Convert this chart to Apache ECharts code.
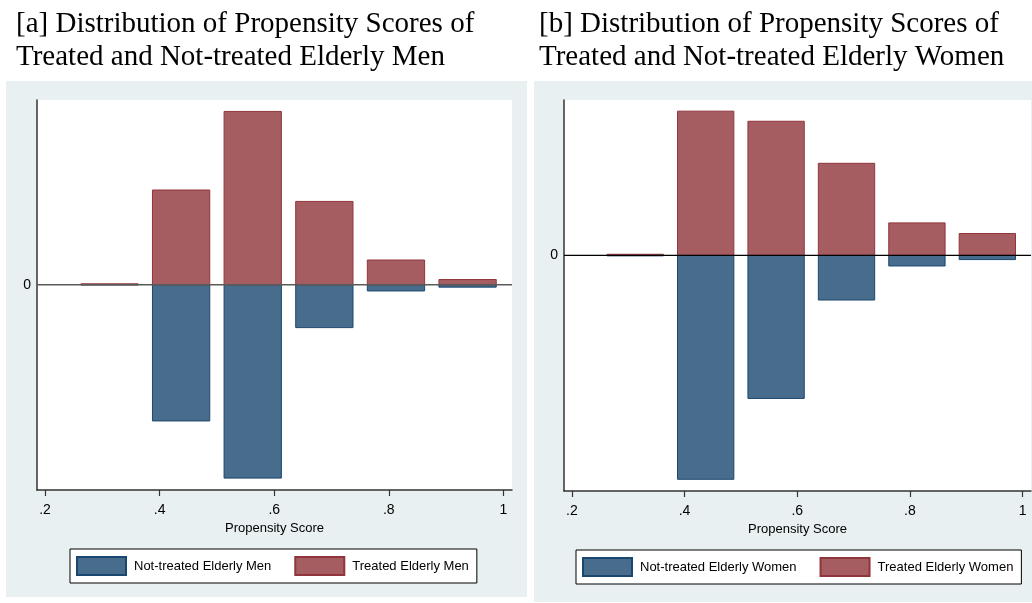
<!DOCTYPE html>
<html>
<head>
<meta charset="utf-8">
<title>Distribution of Propensity Scores</title>
<script src="https://cdn.jsdelivr.net/npm/echarts@6/dist/echarts.min.js"></script>
<style>
  html, body { margin: 0; padding: 0; background: #ffffff; }
  #chart { width: 1032px; height: 603px; }
</style>
</head>
<body>
<div id="chart"></div>
<script>
// Histogram bins of the propensity score (bin centres, width 0.125)
const binCenters = [0.3125, 0.4375, 0.5625, 0.6875, 0.8125, 0.9375];
const barSpan = 0.1; // drawn width of each bar in score units (gap between bins)

// Densities per bin
const menTreated = [0.02, 1.99, 3.64, 1.75, 0.52, 0.11];
const menNotTreated = [0, 2.86, 4.06, 0.90, 0.13, 0.05];
const womenTreated = [0.02, 2.71, 2.52, 1.73, 0.61, 0.41];
const womenNotTreated = [0.01, 4.21, 2.69, 0.84, 0.20, 0.08];

// Axis ticks
const xTickValues = [0.2, 0.4, 0.6, 0.8, 1.0];
const xTickLabels = ['.2', '.4', '.6', '.8', '1'];
const yTickValues = [0];
const yTickLabels = ['0'];

const titles = [
  '[a] Distribution of Propensity Scores of\nTreated and Not-treated Elderly Men',
  '[b] Distribution of Propensity Scores of\nTreated and Not-treated Elderly Women'
];
const seriesNames = [
  ['Not-treated Elderly Men', 'Treated Elderly Men'],
  ['Not-treated Elderly Women', 'Treated Elderly Women']
];

const SANS = '"Liberation Sans", Arial, sans-serif';
const SERIF = '"Liberation Serif", "Times New Roman", serif';
const SANS_SIZE = 13;
const TICK_SIZE = 14;
const NAVY = '#1a476f', NAVY_FILL = '#486c8c';
const MAROON = '#90353b', MAROON_FILL = '#a65d62';
const PANEL_BG = '#e8f0f2';

// Rows for a custom histogram series: [left edge, right edge, signed value]
function histRows(values, sign) {
  return binCenters.map((c, i) => [c - barSpan / 2, c + barSpan / 2, sign * values[i]]);
}

function renderBar(params, api) {
  const p0 = api.coord([api.value(0), 0]);
  const p1 = api.coord([api.value(1), api.value(2)]);
  const x = Math.min(p0[0], p1[0]);
  const y = Math.min(p0[1], p1[1]);
  const w = Math.abs(p1[0] - p0[0]);
  const h = Math.abs(p1[1] - p0[1]);
  return {
    type: 'rect',
    shape: { x: x, y: y, width: w, height: h },
    style: api.style()
  };
}

const xMin = 0.186, xMax = 1.015;
const yRanges = [[-4.31, 3.88], [-4.43, 2.92]];

function xAxisFor(gridIndex) {
  return {
    gridIndex: gridIndex,
    type: 'value',
    min: xMin,
    max: xMax,
    name: 'Propensity Score',
    nameLocation: 'middle',
    nameGap: 30,
    nameTextStyle: { fontFamily: SANS, fontSize: SANS_SIZE, color: '#000' },
    axisLine: { show: true, onZero: false, lineStyle: { color: '#333', width: 1.5 } },
    axisTick: { show: true, length: 6, customValues: xTickValues, lineStyle: { color: '#333', width: 1.2 } },
    axisLabel: {
      customValues: xTickValues,
      margin: 13,
      fontFamily: SANS,
      fontSize: TICK_SIZE,
      color: '#000',
      formatter: v => {
        const i = xTickValues.findIndex(t => Math.abs(t - v) < 1e-9);
        return i >= 0 ? xTickLabels[i] : '';
      }
    },
    splitLine: { show: false }
  };
}

function yAxisFor(gridIndex) {
  return {
    gridIndex: gridIndex,
    type: 'value',
    min: yRanges[gridIndex][0],
    max: yRanges[gridIndex][1],
    axisLine: { show: true, lineStyle: { color: '#333', width: 1.5 } },
    axisTick: { show: false },
    axisLabel: {
      customValues: yTickValues,
      margin: 6,
      fontFamily: SANS,
      fontSize: TICK_SIZE,
      color: '#000',
      formatter: v => {
        const i = yTickValues.findIndex(t => Math.abs(t - v) < 1e-9);
        return i >= 0 ? yTickLabels[i] : '';
      }
    },
    splitLine: { show: false }
  };
}

function histSeries(name, gridIndex, rows, fill, edge) {
  return {
    name: name,
    type: 'custom',
    xAxisIndex: gridIndex,
    yAxisIndex: gridIndex,
    renderItem: renderBar,
    encode: { x: [0, 1], y: 2 },
    itemStyle: { color: fill, borderColor: edge, borderWidth: 1 },
    data: rows,
    z: 2,
    silent: true
  };
}

function zeroLine(gridIndex, color, width) {
  return {
    type: 'line',
    xAxisIndex: gridIndex,
    yAxisIndex: gridIndex,
    data: [[xMin, 0], [xMax, 0]],
    symbol: 'none',
    lineStyle: { color: color, width: width },
    silent: true,
    z: 5
  };
}

function legendFor(names, left, top) {
  return {
    data: names,
    left: left,
    top: top,
    orient: 'horizontal',
    icon: 'rect',
    itemWidth: 49,
    itemHeight: 18,
    itemGap: 23,
    padding: [7, 8, 7, 6],
    borderColor: '#000',
    borderWidth: 1,
    backgroundColor: '#fff',
    selectedMode: false,
    textStyle: { fontFamily: SANS, fontSize: SANS_SIZE, color: '#000', padding: [0, 0, 0, 3] }
  };
}

const chart = echarts.init(document.getElementById('chart'), null, { renderer: 'canvas' });

chart.setOption({
  animation: false,
  backgroundColor: '#ffffff',
  graphic: [
    { type: 'rect', shape: { x: 6, y: 81, width: 521, height: 516 }, style: { fill: PANEL_BG }, z: -10, silent: true },
    { type: 'rect', shape: { x: 534, y: 81, width: 498, height: 521 }, style: { fill: PANEL_BG }, z: -10, silent: true }
  ],
  title: [
    {
      text: titles[0], left: 16, top: 8, padding: 0,
      textStyle: { fontFamily: SERIF, fontSize: 29, fontWeight: 'normal', color: '#000', lineHeight: 33 }
    },
    {
      text: titles[1], left: 539, top: 8, padding: 0,
      textStyle: { fontFamily: SERIF, fontSize: 29, fontWeight: 'normal', color: '#000', lineHeight: 33 }
    }
  ],
  grid: [
    { left: 37, top: 100, width: 475, height: 390, show: true, backgroundColor: '#fff', borderWidth: 0 },
    { left: 564, top: 100, width: 467, height: 391, show: true, backgroundColor: '#fff', borderWidth: 0 }
  ],
  xAxis: [xAxisFor(0), xAxisFor(1)],
  yAxis: [yAxisFor(0), yAxisFor(1)],
  legend: [
    legendFor(seriesNames[0], 70, 549),
    legendFor(seriesNames[1], 576, 550)
  ],
  series: [
    histSeries(seriesNames[0][0], 0, histRows(menNotTreated, -1), NAVY_FILL, NAVY),
    histSeries(seriesNames[0][1], 0, histRows(menTreated, 1), MAROON_FILL, MAROON),
    zeroLine(0, '#5a5a5a', 1.6),
    histSeries(seriesNames[1][0], 1, histRows(womenNotTreated, -1), NAVY_FILL, NAVY),
    histSeries(seriesNames[1][1], 1, histRows(womenTreated, 1), MAROON_FILL, MAROON),
    zeroLine(1, '#000', 1.2)
  ]
});
</script>
</body>
</html>
